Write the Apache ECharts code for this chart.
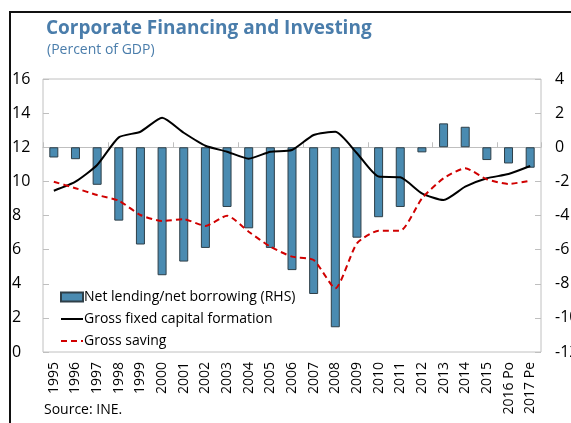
<!DOCTYPE html>
<html>
<head>
<meta charset="utf-8">
<script src="https://cdn.jsdelivr.net/npm/echarts@6/dist/echarts.min.js"></script>
<style>
html,body{margin:0;padding:0;background:#fff;}
#chart{width:571px;height:423px;}
</style>
</head>
<body>
<div id="chart"></div>
<script>
var years = ['1995','1996','1997','1998','1999','2000','2001','2002','2003','2004','2005','2006','2007','2008','2009','2010','2011','2012','2013','2014','2015','2016 Po','2017 Pe'];
var netLending = [-0.6,-0.7,-2.2,-4.3,-5.7,-7.5,-6.7,-5.9,-3.5,-4.75,-5.9,-7.2,-8.6,-10.55,-5.3,-4.1,-3.5,-0.3,1.4,1.2,-0.75,-0.95,-1.2];
var gfcf = [9.45,9.98,10.96,12.58,12.91,13.73,12.85,12.09,11.74,11.33,11.74,11.84,12.72,12.91,11.65,10.28,10.24,9.3,8.91,9.69,10.18,10.43,10.9];
var saving = [9.98,9.6,9.2,8.87,8.03,7.68,7.78,7.39,7.99,7.05,6.17,5.59,5.39,3.73,6.37,7.11,7.11,9.0,10.18,10.77,10.12,9.85,10.04];
var leftTicks = [0,16,2];
var rightTicks = [-12,4,2];

var FONT = '"Open Sans", sans-serif';
var chart = echarts.init(document.getElementById('chart'), null, {renderer:'canvas'});
chart.setOption({
  animation:false,
  backgroundColor:'#fff',
  textStyle:{fontFamily:FONT},
  title:[
    {text:'Corporate Financing and Investing', left:46, top:19, padding:0, textStyle:{fontFamily:FONT, fontSize:19, fontWeight:'bold', color:'#4a7dab'}},
    {text:'(Percent of GDP)', left:47, top:43, padding:0, textStyle:{fontFamily:FONT, fontSize:14, fontWeight:'normal', color:'#4a7dab'}},
    {text:'Source: INE.', left:44, top:403, padding:0, textStyle:{fontFamily:FONT, fontSize:14, fontWeight:'normal', color:'#000'}}
  ],
  grid:{left:43, right:30, top:79, bottom:71, containLabel:false, outerBoundsMode:'none', show:true, borderColor:'#c0c0c0', borderWidth:1, backgroundColor:'transparent'},
  legend:{
    orient:'vertical', left:60, top:290, padding:0, itemWidth:22, itemHeight:9, itemGap:8,
    textStyle:{fontFamily:FONT, fontSize:14, color:'#000', padding:[0,0,0,-4]},
    data:[
      {name:'Net lending/net borrowing (RHS)', icon:'rect'},
      {name:'Gross fixed capital formation', itemStyle:{opacity:0}},
      {name:'Gross saving', itemStyle:{opacity:0}}
    ]
  },
  xAxis:[
    {type:'category', data:years, position:'bottom', axisLine:{show:false}, axisTick:{show:false},
     axisLabel:{rotate:90, interval:0, margin:10, fontFamily:FONT, fontSize:14, color:'#000'}},
    {type:'category', data:years, position:'top', axisLine:{show:true, onZero:true, onZeroAxisIndex:1, lineStyle:{color:'#bfbfbf', width:1}},
     axisTick:{show:true, inside:false, length:5, lineStyle:{color:'#bfbfbf'}}, axisLabel:{show:false}}
  ],
  yAxis:[
    {type:'value', min:leftTicks[0], max:leftTicks[1], interval:leftTicks[2], position:'left',
     axisLine:{show:false}, splitLine:{show:false},
     axisTick:{show:true, inside:true, length:6, lineStyle:{color:'#bfbfbf'}},
     axisLabel:{align:'left', margin:31, fontFamily:FONT, fontSize:16, color:'#000'}},
    {type:'value', min:rightTicks[0], max:rightTicks[1], interval:rightTicks[2], position:'right',
     axisLine:{show:false}, splitLine:{show:false},
     axisTick:{show:true, inside:true, length:6, lineStyle:{color:'#bfbfbf'}},
     axisLabel:{align:'left', margin:14, fontFamily:FONT, fontSize:16, color:'#000'}}
  ],
  series:[
    {name:'Net lending/net borrowing (RHS)', type:'bar', xAxisIndex:0, yAxisIndex:1, data:netLending, barWidth:9,
     itemStyle:{color:'#4a8bb1', borderColor:'#2e3f48', borderWidth:1}},
    {name:'Gross fixed capital formation', type:'line', xAxisIndex:0, yAxisIndex:0, data:gfcf, symbol:'none', smooth:0.2,
     lineStyle:{color:'#000', width:2}, itemStyle:{color:'#000'}},
    {name:'Gross saving', type:'line', xAxisIndex:0, yAxisIndex:0, data:saving, symbol:'none', smooth:0.2,
     lineStyle:{color:'#d00000', width:2, type:[6,4]}, itemStyle:{color:'#d00000'}}
  ],
  graphic:[
    {type:'line', shape:{x1:9, y1:12, x2:571, y2:12}, style:{stroke:'#111', lineWidth:2}},
    {type:'line', shape:{x1:10, y1:11, x2:10, y2:423}, style:{stroke:'#111', lineWidth:2}}
  ]
});
</script>
</body>
</html>
